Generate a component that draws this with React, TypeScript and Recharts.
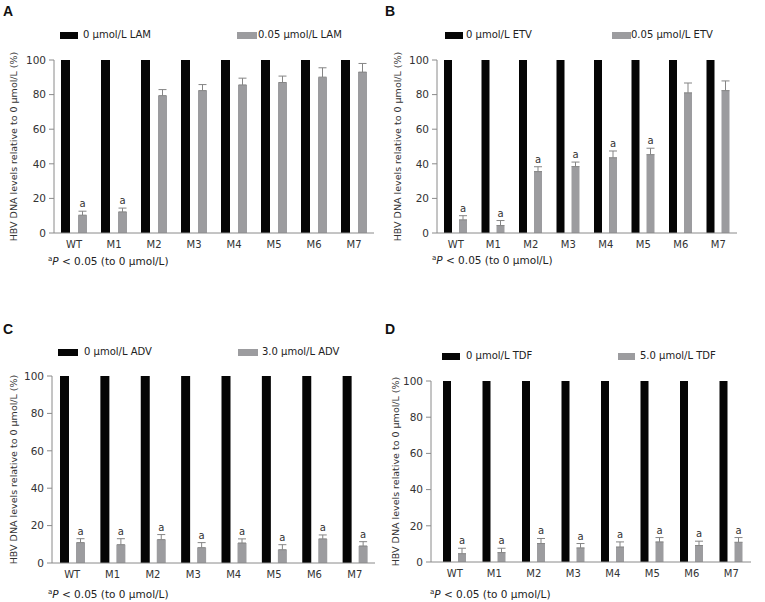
import React from 'react';
import { BarChart, Bar, XAxis, YAxis, Legend, ErrorBar, LabelList } from 'recharts';

const categories = ['WT', 'M1', 'M2', 'M3', 'M4', 'M5', 'M6', 'M7'];
const yTicks = [0, 20, 40, 60, 80, 100];
const controlValue = [100, 100, 100, 100, 100, 100, 100, 100];

const lamValues = [10.3, 12.2, 79.4, 82.3, 85.6, 87.0, 90.1, 93.0];
const lamErrors = [2.3, 2.2, 3.5, 3.5, 3.9, 3.7, 5.4, 5.0];
const lamSig = ['a', 'a', '', '', '', '', '', ''];

const etvValues = [7.6, 4.3, 35.5, 38.4, 43.5, 45.3, 81.0, 82.3];
const etvErrors = [2.4, 2.9, 2.8, 2.6, 3.9, 3.7, 5.7, 5.6];
const etvSig = ['a', 'a', 'a', 'a', 'a', 'a', '', ''];

const advValues = [10.9, 9.8, 12.5, 8.2, 10.7, 7.1, 12.9, 9.1];
const advErrors = [2.1, 3.2, 2.7, 2.7, 2.2, 2.7, 2.1, 2.3];
const advSig = ['a', 'a', 'a', 'a', 'a', 'a', 'a', 'a'];

const tdfValues = [4.6, 5.2, 10.2, 7.8, 8.3, 11.1, 9.1, 10.9];
const tdfErrors = [3.0, 2.4, 2.8, 2.4, 2.8, 2.4, 2.4, 2.6];
const tdfSig = ['a', 'a', 'a', 'a', 'a', 'a', 'a', 'a'];

const panelLetters = ['A', 'B', 'C', 'D'];
const controlNames = ['0 μmol/L LAM', '0 μmol/L ETV', '0 μmol/L ADV', '0 μmol/L TDF'];
const treatedNames = ['0.05 μmol/L LAM', '0.05 μmol/L ETV', '3.0 μmol/L ADV', '5.0 μmol/L TDF'];
const yLabel = 'HBV DNA levels relative to 0 μmol/L (%)';

const FONT = '"DejaVu Sans", Verdana, sans-serif';
const BLACK = '#050505';
const GRAY = '#9c9c9f';
const AXIS = '#8a8a8a';
const TEXT = '#333333';

const panels = [
  {
    values: lamValues, errors: lamErrors, sig: lamSig,
    left: 0, top: 0, width: 380, height: 300,
    margin: { top: 60, right: 6, bottom: 42, left: 0 }, yWidth: 54, padL: 0,
    barSize: 9, barGap: 8,
    letter: { x: 3, y: 4 }, yLabelX: 13,
    legend: { y: 35, bx: 60, bw: 18, tx: 83, gx: 237, gw: 20, gtx: 258 },
    foot: { x: 48, y: 261 },
  },
  {
    values: etvValues, errors: etvErrors, sig: etvSig,
    left: 380, top: 0, width: 385, height: 300,
    margin: { top: 60, right: 28, bottom: 42, left: 0 }, yWidth: 57, padL: 0,
    barSize: 8, barGap: 7,
    letter: { x: 5, y: 4 }, yLabelX: 17,
    legend: { y: 35, bx: 65, bw: 18, tx: 86, gx: 232, gw: 19, gtx: 251 },
    foot: { x: 52, y: 260 },
  },
  {
    values: advValues, errors: advErrors, sig: advSig,
    left: 0, top: 310, width: 380, height: 292,
    margin: { top: 66, right: 5, bottom: 14, left: 0 }, yWidth: 52, padL: 0,
    barSize: 9, barGap: 7,
    letter: { x: 3, y: 12 }, yLabelX: 13,
    legend: { y: 42, bx: 58, bw: 20, tx: 84, gx: 238, gw: 20, gtx: 262 },
    foot: { x: 48, y: 284 },
  },
  {
    values: tdfValues, errors: tdfErrors, sig: tdfSig,
    left: 380, top: 310, width: 385, height: 292,
    margin: { top: 71, right: 14, bottom: 15, left: 0 }, yWidth: 51, padL: 4,
    barSize: 8, barGap: 7,
    letter: { x: 5, y: 12 }, yLabelX: 15,
    legend: { y: 46, bx: 62, bw: 18, tx: 86, gx: 238, gw: 17, gtx: 260 },
    foot: { x: 50, y: 284 },
  },
];

function Panel({ idx }: { idx: number }) {
  const cfg = panels[idx];
  const data = categories.map((c, i) => ({
    cat: c,
    ctrl: controlValue[i],
    treated: cfg.values[i],
    err: [0, cfg.errors[i]],
    sig: cfg.sig[i],
  }));

  const SigLabel = (props: any) => {
    const { x, y, width, height, index, value } = props;
    if (!value) return null;
    const v = cfg.values[index];
    const pxPerUnit = Number(height) / v;
    const errTop = Number(y) - cfg.errors[index] * pxPerUnit;
    return (
      <text x={Number(x) + Number(width) / 2} y={errTop - 4} textAnchor="middle"
        fontSize={10} fontFamily={FONT} fill={TEXT}>{value}</text>
    );
  };

  const LegendContent = (props: any) => {
    const payload = props.payload || [];
    const lg = cfg.legend;
    const ctrl = payload.find((p: any) => p.dataKey === 'ctrl');
    const trt = payload.find((p: any) => p.dataKey === 'treated');
    const item = (p: any, sx: number, sw: number, tx: number) => p ? (
      <React.Fragment key={p.dataKey}>
        <div style={{ position: 'absolute', left: sx, top: lg.y - 3, width: sw, height: 7, background: p.color }} />
        <div style={{ position: 'absolute', left: tx, top: lg.y - 7, fontSize: 10, lineHeight: '14px', fontFamily: FONT, color: '#222', whiteSpace: 'nowrap' }}>{p.value}</div>
      </React.Fragment>
    ) : null;
    return (
      <div style={{ position: 'relative', width: 0, height: 0 }}>
        {item(ctrl, lg.bx, lg.bw, lg.tx)}
        {item(trt, lg.gx, lg.gw, lg.gtx)}
      </div>
    );
  };

  const YLabel = (props: any) => {
    const vb = props.viewBox || {};
    const cy = vb.y + vb.height / 2;
    return (
      <text x={cfg.yLabelX} y={cy} transform={`rotate(-90, ${cfg.yLabelX}, ${cy})`} textAnchor="middle"
        dominantBaseline="central" fontSize={9.5} fontFamily={FONT} fill={TEXT}>{yLabel}</text>
    );
  };

  return (
    <div style={{ position: 'absolute', left: cfg.left, top: cfg.top, width: cfg.width, height: cfg.height }}>
      <div style={{ position: 'absolute', left: cfg.letter.x, top: cfg.letter.y, fontFamily: '"Liberation Sans", Arial, sans-serif', fontWeight: 'bold', fontSize: 14, lineHeight: '14px', color: '#111' }}>
        {panelLetters[idx]}
      </div>
      <BarChart width={cfg.width} height={cfg.height} data={data} margin={cfg.margin}
        barSize={cfg.barSize} barGap={cfg.barGap}>
        <XAxis dataKey="cat" interval={0} tickLine={false} axisLine={{ stroke: AXIS }}
          tick={{ fontSize: 10, fill: TEXT, fontFamily: FONT }} height={25}
          padding={{ left: cfg.padL, right: 0 }} />
        <YAxis domain={[0, 100]} ticks={yTicks} width={cfg.yWidth} tickSize={5} tickMargin={3}
          axisLine={{ stroke: AXIS }} tickLine={{ stroke: AXIS }}
          tick={{ fontSize: 10.5, fill: TEXT, fontFamily: FONT }}
          label={<YLabel />} />
        <Legend content={<LegendContent />} wrapperStyle={{ position: 'absolute', left: 0, top: 0, width: 0, height: 0 }} />
        <Bar dataKey="ctrl" name={controlNames[idx]} fill={BLACK} isAnimationActive={false} />
        <Bar dataKey="treated" name={treatedNames[idx]} fill={GRAY} isAnimationActive={false}>
          <ErrorBar dataKey="err" direction="y" width={4} stroke="#858585" strokeWidth={1} isAnimationActive={false} />
          <LabelList dataKey="sig" content={<SigLabel />} />
        </Bar>
      </BarChart>
      <div style={{ position: 'absolute', left: cfg.foot.x, top: cfg.foot.y - 7, fontSize: 10.5, lineHeight: '14px', fontFamily: FONT, color: '#222', whiteSpace: 'nowrap' }}>
        <sup style={{ fontSize: 7, verticalAlign: 'top', lineHeight: '10px' }}>a</sup><i>P</i> &lt; 0.05 (to 0 μmol/L)
      </div>
    </div>
  );
}

export default function App() {
  return (
    <div style={{ position: 'absolute', left: 0, top: 0, width: 765, height: 602, background: '#fff', overflow: 'hidden' }}>
      {panels.map((_, i) => <Panel key={i} idx={i} />)}
    </div>
  );
}
